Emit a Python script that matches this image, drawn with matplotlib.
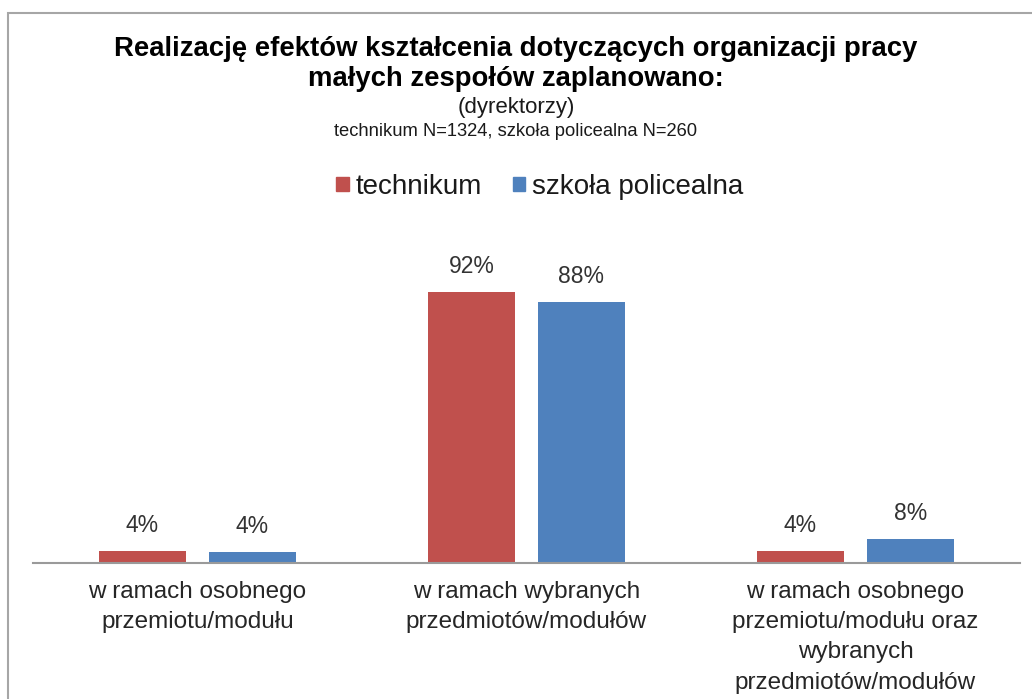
import matplotlib
matplotlib.use("Agg")
import matplotlib.pyplot as plt
from matplotlib.patches import Patch, Rectangle
import numpy as np

# values (percent)
categories = ["w ramach osobnego\nprzemiotu/modułu",
              "w ramach wybranych\nprzedmiotów/modułów",
              "w ramach osobnego\nprzemiotu/modułu oraz\nwybranych\nprzedmiotów/modułów"]
technikum = [4.2, 91.7, 4.2]
policealna = [3.6, 88.4, 8.1]
series_names = ["technikum", "szkoła policealna"]
colors = ["#C0504D", "#4F81BD"]

title = "Realizację efektów kształcenia dotyczących organizacji pracy\nmałych zespołów zaplanowano:"
subtitle = "(dyrektorzy)"
note = "technikum N=1324, szkoła policealna N=260"

plt.rcParams["font.family"] = ["Liberation Sans", "DejaVu Sans"]

W, H = 1032, 699
fig = plt.figure(figsize=(W / 100, H / 100), dpi=100)

def fx(px):
    return px / W

def fy(py):
    return 1 - py / H

# frame around the chart area
fig.add_artist(Rectangle((fx(8), -0.1), 1.2, fy(13) + 0.1, transform=fig.transFigure,
                         fill=False, edgecolor="#A6A6A6", linewidth=1.5))

ax = fig.add_axes([fx(33), fy(563), 987 / W, (563 - 230) / H])

x = np.arange(len(categories))
bw = 0.265
off = 0.167
b1 = ax.bar(x - off, technikum, bw, color=colors[0])
b2 = ax.bar(x + off, policealna, bw, color=colors[1])

for bars, vals in ((b1, technikum), (b2, policealna)):
    for b, v in zip(bars, vals):
        ax.annotate("%.0f%%" % v, (b.get_x() + b.get_width() / 2, v),
                    xytext=(0, 10), textcoords="offset points",
                    ha="center", va="bottom", fontsize=16.5, color="#333333")

ax.set_xlim(-0.5, len(categories) - 0.5)
ax.set_ylim(0, 112.7)
ax.set_yticks([])
ax.set_xticks(x)
ax.set_xticklabels(categories, fontsize=17.5, color="#262626", linespacing=1.48)
ax.tick_params(axis="x", length=0, pad=13)
for s in ("top", "right", "left"):
    ax.spines[s].set_visible(False)
ax.spines["bottom"].set_color("#9A9A9A")
ax.spines["bottom"].set_linewidth(1.5)

fig.text(0.5, fy(64), title, ha="center", va="center", fontsize=19.8,
         fontweight="bold", linespacing=1.2, color="black")
fig.text(0.5, fy(108), subtitle, ha="center", va="center", fontsize=16, color="#1a1a1a")
fig.text(0.5, fy(132), note, ha="center", va="center", fontsize=13.2, color="#1a1a1a")

handles = [Patch(color=c, label=n) for c, n in zip(colors, series_names)]
fig.legend(handles=handles, loc="center", bbox_to_anchor=(fx(540), fy(187)), ncol=2,
           frameon=False, prop={"size": 20},
           handlelength=0.45, handleheight=0.4, handletextpad=0.25,
           columnspacing=1.1, labelcolor="#1a1a1a")

fig.savefig("out.png", dpi=100)
